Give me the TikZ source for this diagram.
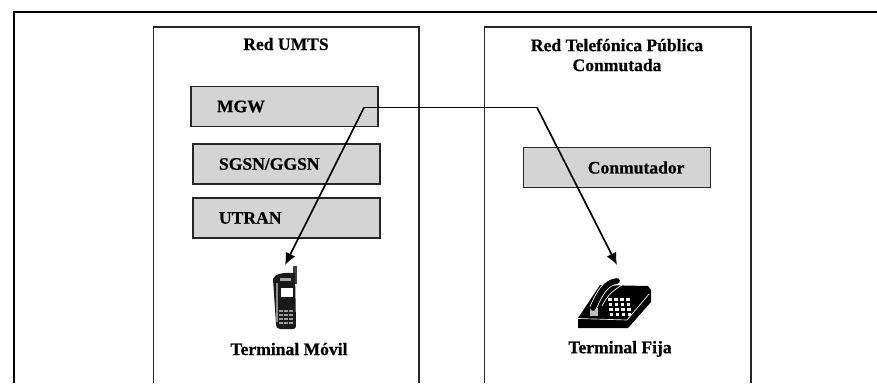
\documentclass[tikz,border=0pt]{standalone}
\usepackage{fontspec}
\setmainfont[BoldFeatures={FakeBold=0.6}]{Liberation Serif}
\usetikzlibrary{arrows.meta}
\begin{document}
\begin{tikzpicture}[x=0.3mm,y=-0.3mm]
    % Define basic node style
    \tikzset{
        block/.style={
            rectangle,
            draw=black!85,
            line width=0.5mm,
            fill=black!17,
            text width=40.5mm,
            inner xsep=7.8mm,
            inner ysep=0pt,
            minimum height=12mm,
            font=\bfseries\fontsize{15}{18}\selectfont
        },
        caption/.style={
            align=center,
            inner sep=0pt,
            font=\bfseries\fontsize{15}{17}\selectfont
        },
        frameline/.style={line width=0.5mm, black!85},
        link/.style={line width=0.5mm, black},
        linkarrow/.style={link, -{Latex[length=3.6mm,width=3.2mm]}}
    }
    \useasboundingbox (0,0) rectangle (877,383);

    % Outer frame
    \draw[line width=0.6mm, black] (14,383) -- (14,12) -- (877,12);

    % Network panels
    \draw[frameline] (153.5,383) -- (153.5,27) -- (419,27) -- (419,383);
    \draw[frameline] (484.5,383) -- (484.5,27) -- (751,27) -- (751,383);
    \node[caption] (umts) at (286,44) {Red UMTS};
    \node[caption] (rtpc) at (617,55) {Red Telefónica Pública\\Conmutada};

    % UMTS blocks
    \node[block, align=left] (mgw) at (284.5,106.5) {MGW};
    \node[block, align=left] (sgsn) at (286.5,164) {SGSN/GGSN};
    \node[block, align=left] (utran) at (286.5,218) {UTRAN};

    % Switch block
    \node[block, align=right] (conmutador) at (617,167.5) {Conmutador};

    % Mobile handset
    \fill[black!75] (293,266) rectangle (297,284);
    \fill[black!90] (273,279) .. controls (274,274) and (284,272) .. (295,273)
        -- (296,325) .. controls (296,329) and (294,329) .. (292,329)
        -- (280,329) .. controls (277,329) and (276,327) .. (276,324) -- cycle;
    \fill[black!35] (280,278) rectangle (291,281);
    \fill[black!45] (276,283) rectangle (278,322);
    \fill[white] (281,288) rectangle (293,297);
    \foreach \row in {310,314,318,322} {
        \foreach \col in {279,284,289} {
            \fill[black!40] (\col,\row) rectangle ++(3.5,2);
        }
    }
    \node[caption] (mobil) at (289,349) {Terminal Móvil};

    % Desk telephone
    \fill[black] (578,318) -- (600,285) -- (648,286) -- (651,290) -- (651,302)
        -- (628,328) -- (578,328) -- cycle;
    \draw[white, line width=0.2mm] (578,318.5) -- (627,320) -- (649,294);
    \foreach \row in {0,1,2,3} {
        \foreach \col in {0,1,2,3} {
            \fill[white] (610+\col*6+\row*-1.6-\row*2+\row*3,313-\row*5)
                rectangle ++(3.4,2.6);
        }
    }
    \fill[black!25] (590,308) rectangle (598,316);
    \draw[white, line width=2.2mm] (593,308) .. controls (600,292) and (606,282) .. (617,281);
    \draw[black, line width=1.7mm, line cap=round] (593,308) .. controls (600,292) and (606,282) .. (617,281);
    \draw[white, line width=0.2mm] (602,306) .. controls (608,294) and (614,290) .. (622,285);
    \node[caption] (fija) at (620,349) {Terminal Fija};

    % Connections
    \coordinate (junction) at (364,107.5);
    \coordinate (bend) at (537,107.5);
    \coordinate (mobiltip) at (285,265);
    \coordinate (fijatip) at (617,265);
    \draw[link] (junction) -- (bend);
    \draw[linkarrow] (junction) -- (mobiltip);
    \draw[linkarrow] (bend) -- (fijatip);
\end{tikzpicture}
\end{document}
